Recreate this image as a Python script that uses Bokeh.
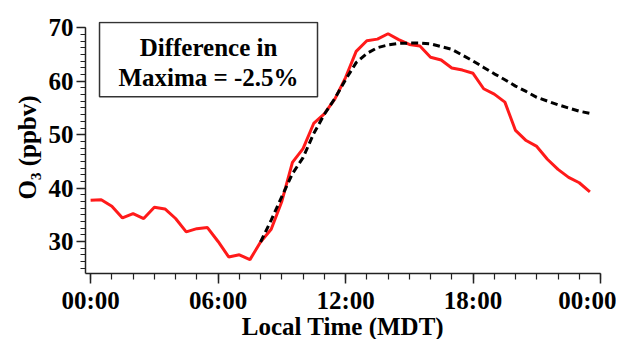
from bokeh.plotting import figure
from bokeh.models import FixedTicker, BoxAnnotation, Range1d
from bokeh.core.properties import value
from bokeh.embed import file_html
from bokeh.resources import INLINE

# ---- data ----
obs_hours = [0.0, 0.5, 1.0, 1.5, 2.0, 2.5, 3.0, 3.5, 4.0, 4.5, 5.0, 5.5,
             6.0, 6.5, 7.0, 7.5, 8.0, 8.5, 9.0, 9.5, 10.0, 10.5, 11.0, 11.5,
             12.0, 12.5, 13.0, 13.5, 14.0, 14.5, 15.0, 15.5, 16.0, 16.5, 17.0, 17.5,
             18.0, 18.5, 19.0, 19.5, 20.0, 20.5, 21.0, 21.5, 22.0, 22.5, 23.0, 23.5]
obs_o3 = [37.7, 37.8, 36.6, 34.4, 35.2, 34.3, 36.4, 36.1, 34.3, 31.8, 32.4, 32.6,
          30.0, 27.1, 27.5, 26.6, 29.9, 32.3, 37.5, 44.8, 47.4, 52.1, 53.9, 56.7,
          60.7, 65.6, 67.6, 67.9, 68.9, 67.8, 66.9, 66.6, 64.5, 64.0, 62.5, 62.1,
          61.5, 58.6, 57.6, 56.1, 50.8, 48.9, 47.8, 45.4, 43.5, 42.0, 41.0, 39.3]

model_hours = [8.0, 8.5, 9.0, 9.5, 10.0, 10.5, 11.0, 11.5,
               12.0, 12.5, 13.0, 13.5, 14.0, 14.5, 15.0, 15.5, 16.0, 16.5, 17.0, 17.5,
               18.0, 18.5, 19.0, 19.5, 20.0, 20.5, 21.0, 21.5, 22.0, 22.5, 23.0, 23.5]
model_o3 = [29.9, 34.0, 38.4, 42.7, 45.7, 50.2, 53.8, 56.8,
            60.3, 63.5, 65.2, 66.3, 66.8, 67.1, 67.15, 67.15, 67.0, 66.5, 66.0, 64.9,
            63.8, 62.6, 61.4, 60.3, 59.1, 58.1, 57.0, 56.3, 55.6, 55.0, 54.4, 54.0]

x_ticks = [0, 6, 12, 18, 24]
x_tick_labels = ["00:00", "06:00", "12:00", "18:00", "00:00"]
y_ticks = [30, 40, 50, 60, 70]
box_lines = ["Difference in", "Maxima = -2.5%"]

FONT = "Liberation Serif"

p = figure(frame_width=515, frame_height=252,
           x_range=Range1d(-0.24, 24), y_range=Range1d(24, 71.2),
           output_backend="svg", toolbar_location=None,
           min_border_left=85, min_border_right=16, min_border_top=21, min_border_bottom=40)
p.outline_line_color = None
p.xgrid.visible = False
p.ygrid.visible = False
p.background_fill_color = "white"
p.border_fill_color = "white"

# axes
xa = p.xaxis[0]
xa.ticker = FixedTicker(ticks=x_ticks, minor_ticks=list(range(0, 25)))
xa.major_label_overrides = {t: l for t, l in zip(x_ticks, x_tick_labels)}
xa.axis_label = "Local Time (MDT)"
ya = p.yaxis[0]
ya.ticker = FixedTicker(ticks=y_ticks, minor_ticks=[25 + 1.25 * k for k in range(37)])
ya.bounds = (24, 70)
ya.axis_label = "O\u2083 (ppbv)"

for ax in (xa, ya):
    ax.axis_line_color = "#222222"
    ax.axis_line_width = 1.5
    ax.major_tick_line_color = "#222222"
    ax.minor_tick_line_color = "#222222"
    ax.major_tick_line_width = 1.5
    ax.minor_tick_line_width = 1.2
    ax.major_tick_in = 0
    ax.minor_tick_in = 0
    ax.major_label_text_font = FONT
    ax.major_label_text_font_style = "bold"
    ax.major_label_text_font_size = "25px"
    ax.major_label_text_color = "black"
    ax.axis_label_text_font = FONT
    ax.axis_label_text_font_style = "bold"
    ax.axis_label_text_font_size = "25px"
    ax.axis_label_text_color = "black"

xa.major_tick_out = 10
xa.minor_tick_out = 6
xa.major_label_standoff = 3
xa.axis_label_standoff = -4
ya.major_tick_out = 9
ya.minor_tick_out = 5
ya.major_label_standoff = 3
ya.axis_label_standoff = 5

# annotation box (drawn beneath the text)
p.add_layout(BoxAnnotation(left=0.42, right=10.68, bottom=57.1, top=71.0,
                           fill_color="white", fill_alpha=1.0,
                           line_color="#333333", line_width=1.5, line_alpha=1.0,
                           level="underlay"))

# lines
p.line(obs_hours, obs_o3, line_color="#ff1a1a", line_width=3)
p.line(model_hours, model_o3, line_color="black", line_width=3, line_dash="7 4")

p.text(x=[5.55, 5.55], y=[66.3, 60.7], text=box_lines, text_align="center",
       text_baseline="middle", text_font=value("'Liberation Serif', serif"),
       text_font_style="bold", text_font_size="25px", text_color="black")

open("out.html", "w").write(file_html(p, INLINE))
